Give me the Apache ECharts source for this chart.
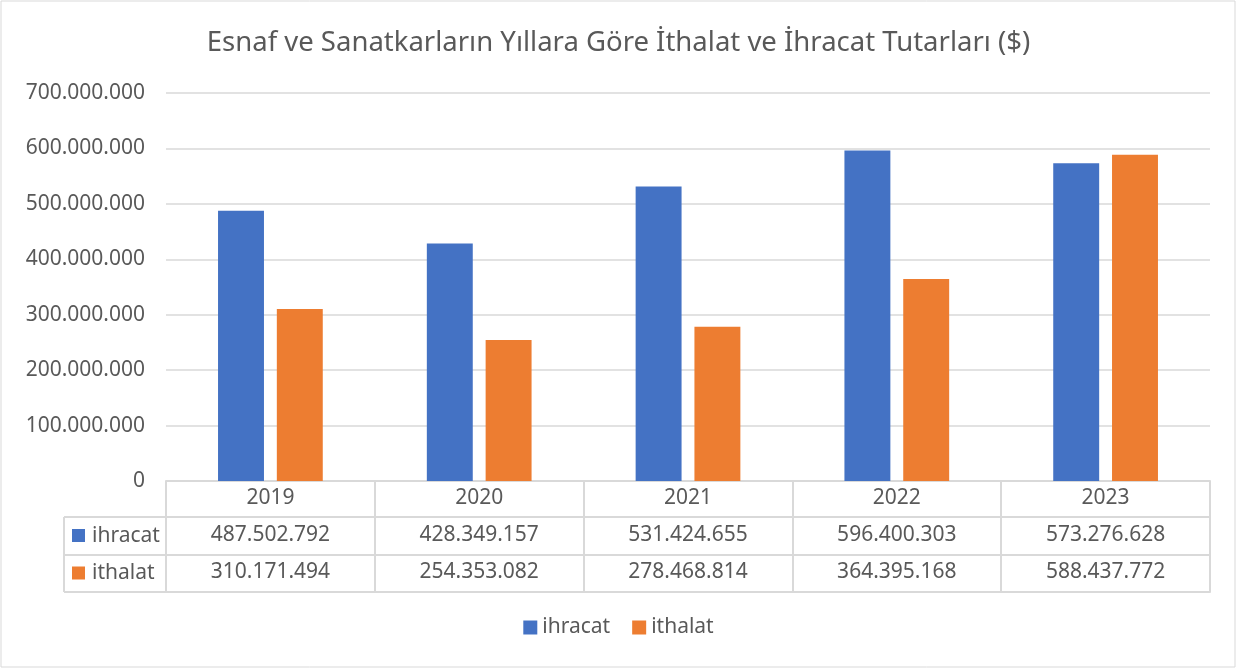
<!DOCTYPE html>
<html>
<head>
<meta charset="utf-8">
<script src="https://cdn.jsdelivr.net/npm/echarts@6/dist/echarts.min.js"></script>
<style>
html,body{margin:0;padding:0;background:#fff;}
#main{width:1237px;height:669px;}
</style>
</head>
<body>
<div id="main"></div>
<script>
// veriler
var years = ['2019', '2020', '2021', '2022', '2023'];
var ihracat = [487502792, 428349157, 531424655, 596400303, 573276628];
var ithalat = [310171494, 254353082, 278468814, 364395168, 588437772];
var seriesNames = ['ihracat', 'ithalat'];
var colors = ['#4472C4', '#ED7D31'];

var textColor = '#595959';
var lineColor = '#d9d9d9';
var font = '"Noto Sans", "Open Sans", sans-serif';
var fs = 21;

// grafik alani
var gLeft = 166, gRight = 1210, gTop = 93, gBottom = 481;
var rowH = [36, 38, 37];   // tablo satir yukseklikleri
var tableLeft = 64;

function fmt(v) {
	return String(v).replace(/\B(?=(\d{3})+(?!\d))/g, '.');
}

var row1 = gBottom + rowH[0];
var row2 = row1 + rowH[1];
var row3 = row2 + rowH[2];

var chart = echarts.init(document.getElementById('main'));

// tablonun sol kismi (seri adlari)
var graphics = [
	{type: 'rect', shape: {x: 1, y: 1, width: 1234, height: 666}, style: {fill: 'none', stroke: lineColor, lineWidth: 1}},
	{type: 'line', shape: {x1: tableLeft, y1: row1, x2: gLeft, y2: row1}, style: {stroke: lineColor, lineWidth: 2}},
	{type: 'line', shape: {x1: tableLeft, y1: row2, x2: gLeft, y2: row2}, style: {stroke: lineColor, lineWidth: 2}},
	{type: 'line', shape: {x1: tableLeft, y1: row3, x2: gLeft, y2: row3}, style: {stroke: lineColor, lineWidth: 2}},
	{type: 'line', shape: {x1: tableLeft, y1: row1, x2: tableLeft, y2: row3}, style: {stroke: lineColor, lineWidth: 2}}
];
var rowTops = [row1, row2];
seriesNames.forEach(function (n, i) {
	var cy = (rowTops[i] + (i === 0 ? row2 : row3)) / 2;
	graphics.push({type: 'rect', shape: {x: tableLeft + 8, y: cy - 7, width: 13, height: 13}, style: {fill: colors[i]}});
	graphics.push({type: 'text', x: tableLeft + 28, y: cy, style: {text: n, fill: textColor, font: fs + 'px ' + font, verticalAlign: 'middle'}});
});

var option = {
	animation: false,
	color: colors,
	title: {
		text: 'Esnaf ve Sanatkarların Yıllara Göre İthalat ve İhracat Tutarları ($)',
		left: 'center',
		top: 24,
		textStyle: {color: textColor, fontSize: 27.5, fontWeight: 'normal', fontFamily: font}
	},
	legend: {
		data: seriesNames,
		bottom: 26,
		left: 'center',
		itemWidth: 14,
		itemHeight: 14,
		itemGap: 22,
		icon: 'rect',
		textStyle: {color: textColor, fontSize: fs, fontFamily: font}
	},
	grid: {left: gLeft, right: 1237 - gRight, top: gTop, bottom: 669 - gBottom, containLabel: false},
	xAxis: [
		{
			type: 'category',
			data: years,
			axisLine: {show: true, lineStyle: {color: lineColor, width: 2}},
			axisTick: {show: true, length: rowH[0] + rowH[1] + rowH[2], lineStyle: {color: lineColor, width: 2}},
			axisLabel: {color: textColor, fontSize: fs, fontFamily: font, margin: 7}
		},
		{
			type: 'category',
			data: ihracat.map(fmt),
			position: 'bottom',
			offset: rowH[0],
			axisLine: {show: true, lineStyle: {color: lineColor, width: 2}},
			axisTick: {show: false},
			axisLabel: {color: textColor, fontSize: fs, fontFamily: font, margin: 8}
		},
		{
			type: 'category',
			data: ithalat.map(fmt),
			position: 'bottom',
			offset: rowH[0] + rowH[1],
			axisLine: {show: true, lineStyle: {color: lineColor, width: 2}},
			axisTick: {show: false},
			axisLabel: {color: textColor, fontSize: fs, fontFamily: font, margin: 7}
		},
		{
			type: 'category',
			data: years,
			position: 'bottom',
			offset: rowH[0] + rowH[1] + rowH[2],
			axisLine: {show: true, lineStyle: {color: lineColor, width: 2}},
			axisTick: {show: false},
			axisLabel: {show: false}
		}
	],
	yAxis: {
		type: 'value',
		min: 0,
		max: 700000000,
		interval: 100000000,
		axisLine: {show: false},
		axisTick: {show: false},
		splitLine: {lineStyle: {color: lineColor, width: 1.5}},
		axisLabel: {color: textColor, fontSize: fs, fontFamily: font, margin: 21, formatter: fmt}
	},
	series: [
		{name: seriesNames[0], type: 'bar', data: ihracat, barWidth: '22%', barGap: '28%'},
		{name: seriesNames[1], type: 'bar', data: ithalat, barWidth: '22%', barGap: '28%'}
	],
	graphic: graphics
};

chart.setOption(option);
</script>
</body>
</html>
